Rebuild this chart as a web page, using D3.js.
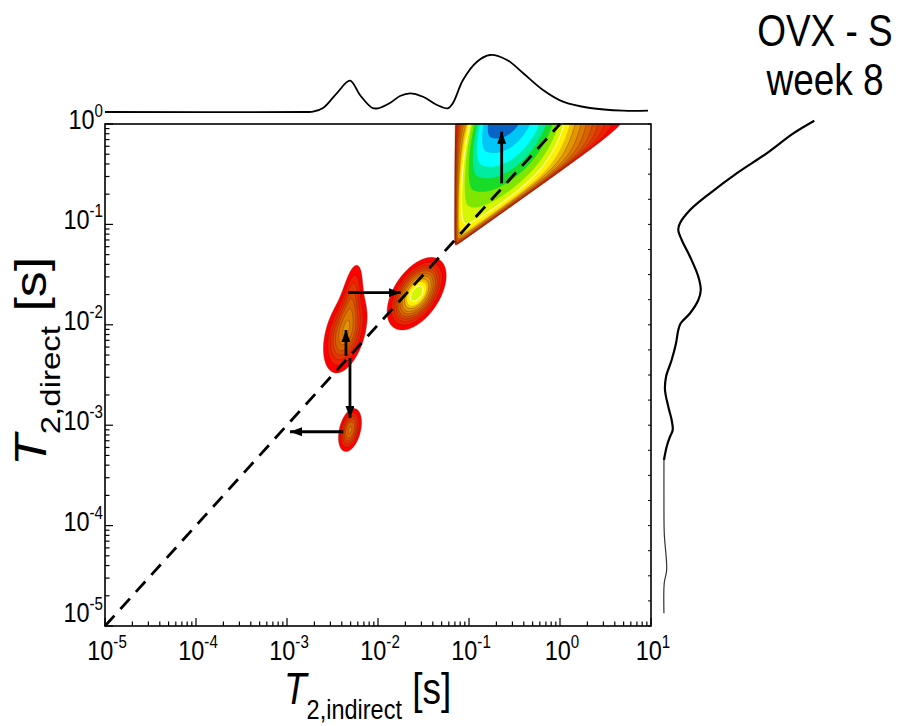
<!DOCTYPE html>
<html><head><meta charset="utf-8">
<script src="https://cdn.jsdelivr.net/npm/d3@7"></script>
<style>body{margin:0;background:#fff}svg{display:block}text{font-family:"Liberation Sans",Arial,sans-serif;fill:#000}</style>
</head><body><svg id="c" width="899" height="726"></svg>
<script>
// ---------------- data (all T2 values as log10 of seconds) ----------------
const xTickExponents = [-5, -4, -3, -2, -1, 0, 1];
const yTickExponents = [-5, -4, -3, -2, -1, 0];
const titleLines = ["OVX - S", "week 8"];

// elliptical peaks of the 2D map
const peakLogIndirect   = [-2.36, -2.29, -1.575, -2.308];
const peakLogDirect     = [-2.08, -1.72, -1.69, -3.048];
const peakSpreadIndirect= [0.12, 0.07, 0.14, 0.065];
const peakSpreadDirect  = [0.20, 0.20, 0.156, 0.11];
const peakTilt          = [0.40, 0.50, 0.50, 0.35];
const peakAmplitude     = [0.22, 0.10, 0.44, 0.20];

// large wedge-shaped peak (top right): apex, centre, ridge level, spreads
const wedgeApex   = [-1.16, -1.225];
const wedgeEdgeSlope = 0.643;
const wedgeCentre = [-0.64, 0.20];
const wedgeRidgeLevel = 0.36;
const wedgeSpread = [0.55, 0.20, 0.52];   // along axis, left side, right side
const wedgeEdgeSoftness = [0.03, 0.04];   // left edge, lower edge

// contour levels and colours
const levels = [0.03,0.06,0.09,0.12,0.15,0.19,0.23,0.28,0.33,0.39,0.45,0.52,0.60,0.68,0.78,0.88];
const levelColors = ['#ff0000','#f02000','#e43600','#dc4c00','#d86200','#dc7a00','#e29600','#ecbc00',
                     '#fff000','#d6f500','#7ee600','#18dc28','#00eca0','#00ffff','#00c6f8','#0a64c8'];

// arrows
const arrowFromIndirect = [-0.641, -2.326, -2.352, -2.308, -2.381];
const arrowFromDirect   = [-0.591, -1.680, -2.311, -2.331, -3.065];
const arrowToIndirect   = [-0.641, -1.751, -2.352, -2.308, -2.967];
const arrowToDirect     = [-0.077, -1.680, -2.052, -2.928, -3.065];

// marginal projections
const topCurveLogT2 = [-5.0,-2.8,-2.714,-2.604,-2.451,-2.308,-2.198,-2.066,-2.0,-1.868,-1.758,-1.648,-1.505,-1.352,-1.231,-1.176,-1.066,-0.912,-0.769,-0.582,-0.407,-0.187,0.033,0.330,0.692,0.967];
const topCurveAmp   = [0,0,0.005,0.07,0.333,0.549,0.298,0.075,0.065,0.158,0.281,0.328,0.268,0.123,0.065,0.158,0.561,0.882,1.0,0.912,0.684,0.386,0.181,0.07,0.023,0.023];
const rightCurveLogT2 = [0.033,-0.093,-0.292,-0.491,-0.690,-0.857,-0.989,-1.056,-1.155,-1.322,-1.521,-1.653,-1.753,-1.885,-1.985,-2.052,-2.184,-2.351,-2.517,-2.649,-2.816,-2.948,-3.048,-3.115,-3.214,-3.347,-3.745,-4.074,-4.442,-4.572,-4.874];
const rightCurveAmp   = [1.0,0.861,0.684,0.485,0.308,0.176,0.109,0.098,0.121,0.176,0.231,0.247,0.231,0.176,0.114,0.098,0.083,0.054,0.017,0.010,0.032,0.054,0.061,0.043,0.021,0.003,0.003,0.005,0.021,0.005,0.003];

// ---------------- layout ----------------
const P = {l:105, r:651, t:124, b:626};
const SX = 0.84; // horizontal squeeze of the text
const svg = d3.select('#c');
const x = d3.scaleLog().domain([1e-5, 1e1]).range([P.l, P.r]);
const y = d3.scaleLog().domain([1e-5, 1e0]).range([P.b, P.t]);
const topAmp = d3.scaleLinear().domain([0,1]).range([112, 55]);
const rightAmp = d3.scaleLinear().domain([0,1]).range([663.5, 814.3]);

// ---------------- density field ----------------
const uMin = -5, uMax = 1, vMin = -5, vMax = 0;
const nx = 546, ny = 502;
const du = (uMax-uMin)/nx, dv = (vMax-vMin)/ny;
const L = Math.hypot(wedgeCentre[0]-wedgeApex[0], wedgeCentre[1]-wedgeApex[1]);
const dir = [(wedgeCentre[0]-wedgeApex[0])/L, (wedgeCentre[1]-wedgeApex[1])/L];
function wedge(u, v){
  const a = u - wedgeApex[0];
  if (a <= 0) return 0;
  const b = v - (wedgeApex[1] + wedgeEdgeSlope*a);
  if (b <= 0) return 0;
  const ra = 1 - Math.exp(-a/wedgeEdgeSoftness[0]);
  const rb = 1 - Math.exp(-b/wedgeEdgeSoftness[1]);
  const rv = v - wedgeApex[1];
  const s = a*dir[0] + rv*dir[1];
  const t = a*dir[1] - rv*dir[0];
  const gs = wedgeRidgeLevel + (1-wedgeRidgeLevel)*Math.exp(-0.5*((s-L)/wedgeSpread[0])**2);
  const st = t < 0 ? wedgeSpread[1] : wedgeSpread[2];
  const gt = Math.exp(-0.5*(t/st)**2);
  return gs*gt*ra*rb;
}
function field(u, v){
  let f = wedge(u, v);
  for (let k = 0; k < peakAmplitude.length; k++){
    const a = (u-peakLogIndirect[k])/peakSpreadIndirect[k];
    const b = (v-peakLogDirect[k])/peakSpreadDirect[k];
    const r = peakTilt[k];
    f += peakAmplitude[k]*Math.exp(-0.5/(1-r*r)*(a*a - 2*r*a*b + b*b));
  }
  return f;
}
const values = new Float64Array(nx*ny);
for (let j = 0; j < ny; j++){
  const v = vMax - (j+0.5)*dv;
  for (let i = 0; i < nx; i++) values[j*nx+i] = field(uMin + (i+0.5)*du, v);
}
const contours = d3.contours().size([nx, ny]).thresholds(levels)(values);
const proj = d3.geoTransform({point(gx, gy){
  this.stream.point(x(Math.pow(10, uMin + gx*du)), y(Math.pow(10, vMax - gy*dv)));
}});
const geoPath = d3.geoPath(proj);

const gMap = svg.append('g');
gMap.selectAll('path.fill').data(contours).join('path')
  .attr('class','fill').attr('d', geoPath)
  .attr('fill', (d,i) => levelColors[i])
  .attr('stroke', (d,i) => i < 8 ? '#701800' : (i === 9 ? '#ffffa0' : 'none'))
  .attr('stroke-opacity', (d,i) => i < 8 ? 0.6 : 0.9)
  .attr('stroke-width', (d,i) => i < 8 ? 0.6 : 1.2);

// ---------------- dashed diagonal ----------------
svg.append('line')
  .attr('x1', x(1e-5)).attr('y1', y(1e-5)).attr('x2', x(1)).attr('y2', y(1))
  .attr('stroke','#000').attr('stroke-width',2.8).attr('stroke-dasharray','14,9');

// ---------------- arrows ----------------
svg.append('defs').append('marker').attr('id','ah')
  .attr('viewBox','0 0 12 9').attr('refX',12).attr('refY',4.5)
  .attr('markerWidth',12).attr('markerHeight',9).attr('markerUnits','userSpaceOnUse')
  .attr('orient','auto').append('path').attr('d','M0,0L12,4.5L0,9Z').attr('fill','#000');
svg.append('g').selectAll('line').data(arrowFromIndirect).join('line')
  .attr('x1', (d,i) => x(10**arrowFromIndirect[i])).attr('y1', (d,i) => y(10**arrowFromDirect[i]))
  .attr('x2', (d,i) => x(10**arrowToIndirect[i])).attr('y2', (d,i) => y(10**arrowToDirect[i]))
  .attr('stroke','#000').attr('stroke-width',2.8).attr('marker-end','url(#ah)');

// ---------------- frame and ticks ----------------
const gAx = svg.append('g');
gAx.append('rect').attr('x',P.l).attr('y',P.t).attr('width',P.r-P.l).attr('height',P.b-P.t)
  .attr('fill','none').attr('stroke','#000').attr('stroke-width',1.6);
function minorTicks(exps){
  const out = [];
  for (let k = 0; k < exps.length-1; k++) for (let m = 1; m <= 9; m++) out.push({v: m*10**exps[k], major: m===1});
  out.push({v: 10**exps[exps.length-1], major: true});
  return out;
}
gAx.selectAll('line.xt').data(minorTicks(xTickExponents)).join('line').attr('class','xt')
  .attr('x1', d => x(d.v)).attr('x2', d => x(d.v))
  .attr('y1', P.b).attr('y2', d => P.b - (d.major ? 8 : 4.5))
  .attr('stroke','#000').attr('stroke-width',1.2);
gAx.selectAll('line.yt').data(minorTicks(yTickExponents)).join('line').attr('class','yt')
  .attr('y1', d => y(d.v)).attr('y2', d => y(d.v))
  .attr('x1', P.l).attr('x2', d => P.l + (d.major ? 8 : 4.5))
  .attr('stroke','#000').attr('stroke-width',1.2);
const rightTicks = d3.range(-20, 1).map(q => 10**(q/4));
gAx.selectAll('line.rt').data(rightTicks).join('line').attr('class','rt')
  .attr('y1', d => y(d)).attr('y2', d => y(d))
  .attr('x1', P.r).attr('x2', P.r - 3)
  .attr('stroke','#000').attr('stroke-width',1);

// tick labels
function expLabel(g, e, fs, efs, edy){
  const t = g.append('text').attr('font-size', fs);
  t.append('tspan').text('10');
  t.append('tspan').attr('font-size', efs).attr('dy', edy).text(String(e));
  return t;
}
xTickExponents.forEach(e => {
  const g = svg.append('g').attr('transform', `translate(${x(10**e)+2},660) scale(${SX},1)`);
  expLabel(g, e, 28, 18, -12).attr('text-anchor','middle');
});
yTickExponents.forEach((e,i) => {
  const yy = y(10**e) + (i === 0 ? -4 : 5);
  const g = svg.append('g').attr('transform', `translate(103,${yy}) scale(${SX},1)`);
  expLabel(g, e, 28, 18, -12).attr('text-anchor','end');
});

// axis titles
{
  const g = svg.append('g').attr('transform', `translate(284,704) scale(${SX},1)`);
  const t = g.append('text').attr('font-size',44);
  t.append('tspan').attr('font-style','italic').text('T');
  t.append('tspan').attr('font-size',28).attr('dy',15).text('2,indirect');
  t.append('tspan').attr('dy',-15).text(' [s]');
}
{
  const g = svg.append('g').attr('transform', `translate(46,466) scale(${SX},1) rotate(-90)`);
  const t = g.append('text').attr('font-size',52);
  t.append('tspan').attr('font-style','italic').text('T');
  t.append('tspan').attr('font-size',33).attr('dy',17).text('2,direct');
  t.append('tspan').attr('dy',-17).text(' [s]');
}

// ---------------- marginal curves ----------------
const topLine = d3.line().x((d,i) => x(10**topCurveLogT2[i])).y((d,i) => topAmp(topCurveAmp[i])).curve(d3.curveCatmullRom);
svg.append('path').attr('d', topLine(topCurveLogT2)).attr('fill','none').attr('stroke','#000').attr('stroke-width',1.8);
const rightLine = d3.line().x(d => rightAmp(d[1])).y(d => y(10**d[0])).curve(d3.curveCatmullRom);
const rightPts = rightCurveLogT2.map((v,i) => [v, rightCurveAmp[i]]);
const splitAt = 25;
svg.append('path').attr('d', rightLine(rightPts.slice(0, splitAt+1))).attr('fill','none').attr('stroke','#000').attr('stroke-width',2.2);
svg.append('path').attr('d', rightLine(rightPts.slice(splitAt))).attr('fill','none').attr('stroke','#333').attr('stroke-width',1.2);

// ---------------- sample title ----------------
titleLines.forEach((s,i) => {
  svg.append('g').attr('transform', `translate(825,${46 + i*49}) scale(${SX},1)`)
    .append('text').attr('font-size',44).attr('text-anchor','middle').text(s);
});
</script></body></html>
